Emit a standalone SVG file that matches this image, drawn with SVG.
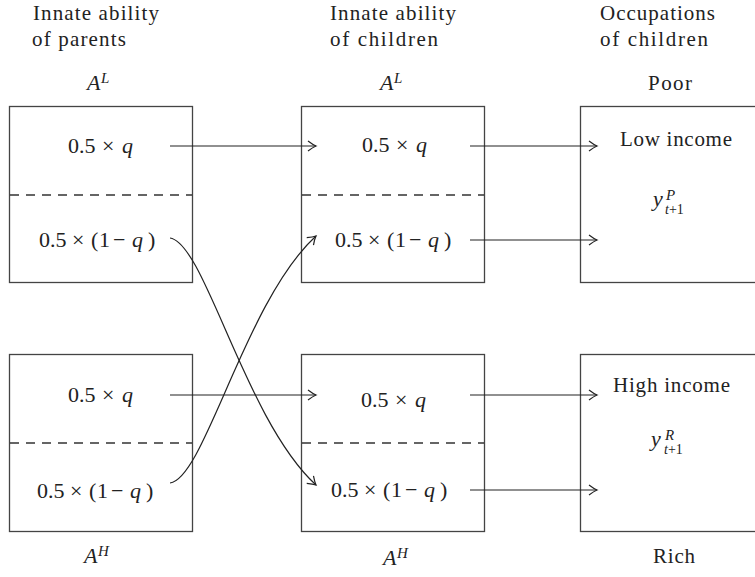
<svg xmlns="http://www.w3.org/2000/svg" width="755" height="577" viewBox="0 0 755 577">
<style>
  text { font-family: "Liberation Serif", "Times New Roman", serif; font-size: 21px; fill: #222; }
  .m { font-size: 22px; }
  .it { font-style: italic; }
  .sm { font-size: 15px; font-style: italic; }
  .sm2 { font-size: 14px; }
  .box { fill: #fff; stroke: #444; stroke-width: 1.3; }
  .dash { stroke: #333; stroke-width: 1.3; stroke-dasharray: 9 7; fill: none; }
  .conn { stroke: #222; stroke-width: 1.2; fill: none; marker-end: url(#arr); }
</style>
<defs>
  <marker id="arr" viewBox="-10 -6 12 12" markerWidth="12" markerHeight="12" refX="0" refY="0" orient="auto" markerUnits="userSpaceOnUse">
    <path d="M-8,-5 Q-3,-1.2 0,0 Q-3,1.2 -8,5" fill="none" stroke="#222" stroke-width="1.2"/>
  </marker>
</defs>
<rect width="755" height="577" fill="#fff"/>

<g id="headers">
  <text x="33" y="20" textLength="126" lengthAdjust="spacing">Innate ability</text>
  <text x="32" y="46" textLength="94" lengthAdjust="spacing">of parents</text>
  <text x="330" y="20" textLength="126" lengthAdjust="spacing">Innate ability</text>
  <text x="330" y="46" textLength="108" lengthAdjust="spacing">of children</text>
  <text x="600" y="20" textLength="115" lengthAdjust="spacing">Occupations</text>
  <text x="600" y="46" textLength="108" lengthAdjust="spacing">of children</text>
</g>

<g id="parentsL">
  <text class="it m" x="87" y="90">A<tspan class="sm" x="101" y="83">L</tspan></text>
  <rect class="box" x="9.5" y="106.5" width="183" height="176"/>
  <line class="dash" x1="10" y1="195" x2="192" y2="195"/>
  <text class="m" y="153"><tspan x="68">0.5</tspan><tspan x="102">×</tspan><tspan class="it" x="122">q</tspan></text>
  <text class="m" y="247"><tspan x="39">0.5</tspan><tspan x="72">×</tspan><tspan x="91">(</tspan><tspan x="99">1</tspan><tspan x="113">−</tspan><tspan class="it" x="132">q</tspan><tspan x="148">)</tspan></text>
</g>

<g id="parentsH">
  <rect class="box" x="9.5" y="354.5" width="183" height="177"/>
  <line class="dash" x1="10" y1="443" x2="192" y2="443"/>
  <text class="m" y="402"><tspan x="68">0.5</tspan><tspan x="102">×</tspan><tspan class="it" x="122">q</tspan></text>
  <text class="m" y="498"><tspan x="37">0.5</tspan><tspan x="70">×</tspan><tspan x="89">(</tspan><tspan x="97">1</tspan><tspan x="111">−</tspan><tspan class="it" x="130">q</tspan><tspan x="146">)</tspan></text>
  <text class="it m" x="84" y="563">A<tspan class="sm" x="98" y="556">H</tspan></text>
</g>

<g id="childrenL">
  <text class="it m" x="380" y="90">A<tspan class="sm" x="394" y="83">L</tspan></text>
  <rect class="box" x="301.5" y="106.5" width="183" height="176"/>
  <line class="dash" x1="302" y1="195" x2="484" y2="195"/>
  <text class="m" y="152"><tspan x="362">0.5</tspan><tspan x="396">×</tspan><tspan class="it" x="416">q</tspan></text>
  <text class="m" y="247"><tspan x="335">0.5</tspan><tspan x="368">×</tspan><tspan x="387">(</tspan><tspan x="395">1</tspan><tspan x="409">−</tspan><tspan class="it" x="428">q</tspan><tspan x="444">)</tspan></text>
</g>

<g id="childrenH">
  <rect class="box" x="301.5" y="354.5" width="183" height="177"/>
  <line class="dash" x1="302" y1="443" x2="484" y2="443"/>
  <text class="m" y="407"><tspan x="361">0.5</tspan><tspan x="395">×</tspan><tspan class="it" x="415">q</tspan></text>
  <text class="m" y="497"><tspan x="331">0.5</tspan><tspan x="364">×</tspan><tspan x="383">(</tspan><tspan x="391">1</tspan><tspan x="405">−</tspan><tspan class="it" x="424">q</tspan><tspan x="440">)</tspan></text>
  <text class="it m" x="383" y="565">A<tspan class="sm" x="397" y="558">H</tspan></text>
</g>

<g id="poor">
  <text x="648" y="90" textLength="44" lengthAdjust="spacing">Poor</text>
  <rect class="box" x="580.5" y="106.5" width="200" height="176"/>
  <text x="620" y="146" textLength="112" lengthAdjust="spacing">Low income</text>
  <text class="it m" x="653" y="206">y<tspan class="sm" x="666" y="200">P</tspan><tspan class="sm2" x="665" y="214">t</tspan><tspan class="sm2" style="font-style:normal">+1</tspan></text>
</g>

<g id="rich">
  <rect class="box" x="580.5" y="354.5" width="200" height="177"/>
  <text x="613" y="392" textLength="117" lengthAdjust="spacing">High income</text>
  <text class="it m" x="651" y="446">y<tspan class="sm" x="665" y="440">R</tspan><tspan class="sm2" x="664" y="454">t</tspan><tspan class="sm2" style="font-style:normal">+1</tspan></text>
  <text x="653" y="563" textLength="42" lengthAdjust="spacing">Rich</text>
</g>

<g id="connectors">
  <line class="conn" x1="170" y1="146" x2="316" y2="146"/>
  <line class="conn" x1="470" y1="146" x2="597" y2="146"/>
  <line class="conn" x1="470" y1="240" x2="597" y2="240"/>
  <line class="conn" x1="170" y1="395" x2="316" y2="395"/>
  <line class="conn" x1="470" y1="395" x2="597" y2="395"/>
  <line class="conn" x1="470" y1="490" x2="597" y2="490"/>
  <path class="conn" d="M170,238 C205,243 245,420 316,485"/>
  <path class="conn" d="M170,483 C205,478 245,301 316,236"/>
</g>
</svg>
